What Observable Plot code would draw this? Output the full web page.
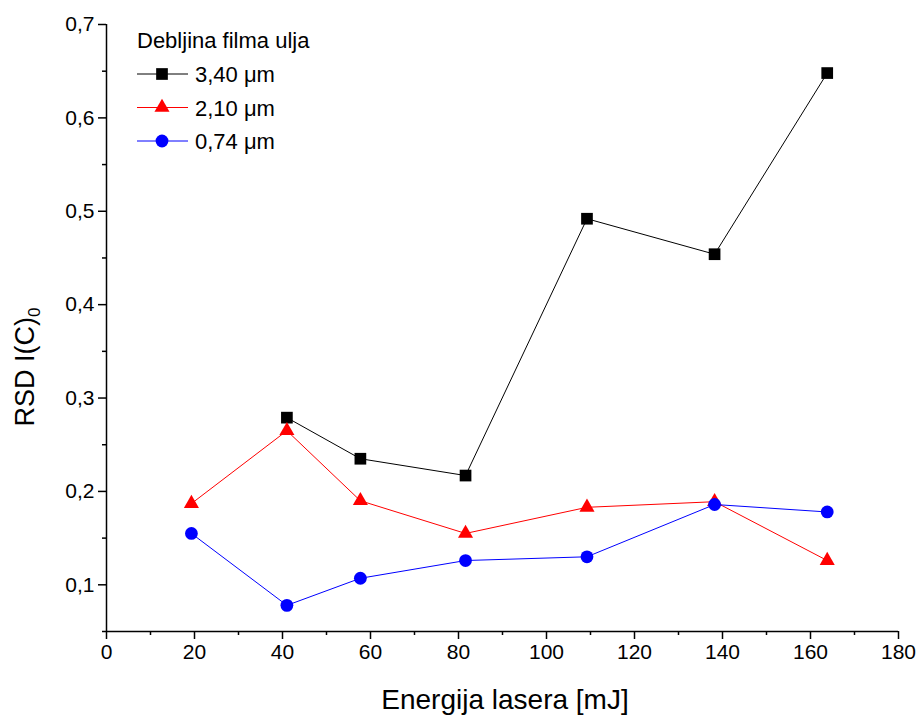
<!DOCTYPE html>
<html>
<head>
<meta charset="utf-8">
<script src="https://cdn.jsdelivr.net/npm/d3@7"></script>
<script src="https://cdn.jsdelivr.net/npm/@observablehq/plot@0.6"></script>
<style>
  html, body { margin: 0; padding: 0; background: #fff; }
  #chart { width: 919px; height: 715px; }
</style>
</head>
<body>
<div id="chart"></div>
<script>
// Laser pulse energy (mJ) at which each film thickness was measured
const energyThick = [41, 57.7, 81.6, 109.2, 138.2, 163.8];
const energyMid   = [19.3, 41, 57.7, 81.6, 109.2, 138.2, 163.8];
const energyThin  = [19.3, 41, 57.7, 81.6, 109.2, 138.2, 163.8];

// RSD of the carbon line intensity for each oil film thickness
const rsdThick = [0.279, 0.235, 0.217, 0.492, 0.454, 0.648]; // 3,40 µm
const rsdMid   = [0.187, 0.265, 0.190, 0.155, 0.183, 0.189, 0.126]; // 2,10 µm
const rsdThin  = [0.155, 0.078, 0.107, 0.126, 0.130, 0.186, 0.178]; // 0,74 µm

const seriesNames   = ["3,40 μm", "2,10 μm", "0,74 μm"];
const seriesColors  = ["#000000", "#ff0000", "#0000ff"];
const seriesSymbols = ["square", "triangle", "circle"];
const seriesRadius  = [6.6, 5.6, 6.4];

// Axis ticks
const xTicks = [0, 20, 40, 60, 80, 100, 120, 140, 160, 180];
const xMinorTicks = [10, 30, 50, 70, 90, 110, 130, 150, 170];
const yTicks = [0.1, 0.2, 0.3, 0.4, 0.5, 0.6, 0.7];
const yMinorTicks = [0.05, 0.15, 0.25, 0.35, 0.45, 0.55, 0.65];

const legendTitle = "Debljina filma ulja";
const xTitle = "Energija lasera [mJ]";

const toRows = (xs, ys, s) => xs.map((x, i) => ({x, y: ys[i], s}));
const series = [
  toRows(energyThick, rsdThick, 0),
  toRows(energyMid, rsdMid, 1),
  toRows(energyThin, rsdThin, 2)
];

const comma = d => d.toFixed(1).replace(".", ",");
const font = "'Liberation Sans', Arial, sans-serif";

const seriesMarks = series.flatMap((rows, k) => [
  Plot.line(rows, {x: "x", y: "y", stroke: seriesColors[k], strokeWidth: 1}),
  Plot.dot(rows, {x: "x", y: "y", symbol: () => seriesSymbols[k], r: seriesRadius[k],
                  fill: seriesColors[k], stroke: "none"})
]);

const chart = Plot.plot({
  width: 919,
  height: 715,
  marginLeft: 106,
  marginRight: 21,
  marginTop: 24,
  marginBottom: 84,
  style: {fontFamily: font, fontSize: "21px", color: "#000", background: "#fff", overflow: "visible"},
  symbol: {type: "identity"},
  x: {domain: [0, 180], label: null},
  y: {domain: [0.05, 0.7], label: null},
  marks: [
    Plot.axisX({ticks: xMinorTicks, tickSize: 4, strokeWidth: 1.5, tickFormat: () => "", label: null}),
    Plot.axisX({ticks: xTicks, tickSize: 8, tickPadding: 5, strokeWidth: 1.5, tickFormat: d => String(d), label: null}),
    Plot.axisY({ticks: yMinorTicks, tickSize: 4, strokeWidth: 1.5, tickFormat: () => "", label: null}),
    Plot.axisY({ticks: yTicks, tickSize: 8, tickPadding: 4, strokeWidth: 1.5, tickFormat: comma, label: null}),
    Plot.ruleX([0], {strokeWidth: 1.5}),
    Plot.ruleY([0.05], {strokeWidth: 1.5}),
    ...seriesMarks
  ]
});

document.getElementById("chart").appendChild(chart);

// Axis titles and legend drawn on top of the plot's SVG
const svg = d3.select(chart);

svg.append("text")
  .attr("x", 505).attr("y", 709)
  .attr("text-anchor", "middle")
  .attr("font-family", font).attr("font-size", 28)
  .attr("fill", "#000")
  .text(xTitle);

const yTitle = svg.append("text")
  .attr("transform", "translate(34,367) rotate(-90)")
  .attr("text-anchor", "middle")
  .attr("font-family", font).attr("font-size", 27)
  .attr("fill", "#000");
yTitle.append("tspan").text("RSD I(C)");
yTitle.append("tspan").attr("font-size", 17).attr("dy", 6).text("0");

const legend = svg.append("g")
  .attr("font-family", font).attr("font-size", 22)
  .attr("text-anchor", "start").attr("fill", "#000");
legend.append("text").attr("x", 137).attr("y", 48).text(legendTitle);
seriesNames.forEach((name, k) => {
  const cy = 74 + k * 33.5;
  const row = legend.append("g");
  row.append("line").attr("x1", 137).attr("x2", 188).attr("y1", cy).attr("y2", cy)
    .attr("stroke", seriesColors[k]).attr("stroke-width", 1);
  row.append("path")
    .attr("transform", `translate(162,${cy})`)
    .attr("d", d3.symbol(seriesSymbols[k] === "square" ? d3.symbolSquare
                        : seriesSymbols[k] === "triangle" ? d3.symbolTriangle : d3.symbolCircle,
                        Math.PI * seriesRadius[k] * seriesRadius[k])())
    .attr("fill", seriesColors[k]);
  row.append("text").attr("x", 195).attr("y", cy + 8).text(name);
});
</script>
</body>
</html>
